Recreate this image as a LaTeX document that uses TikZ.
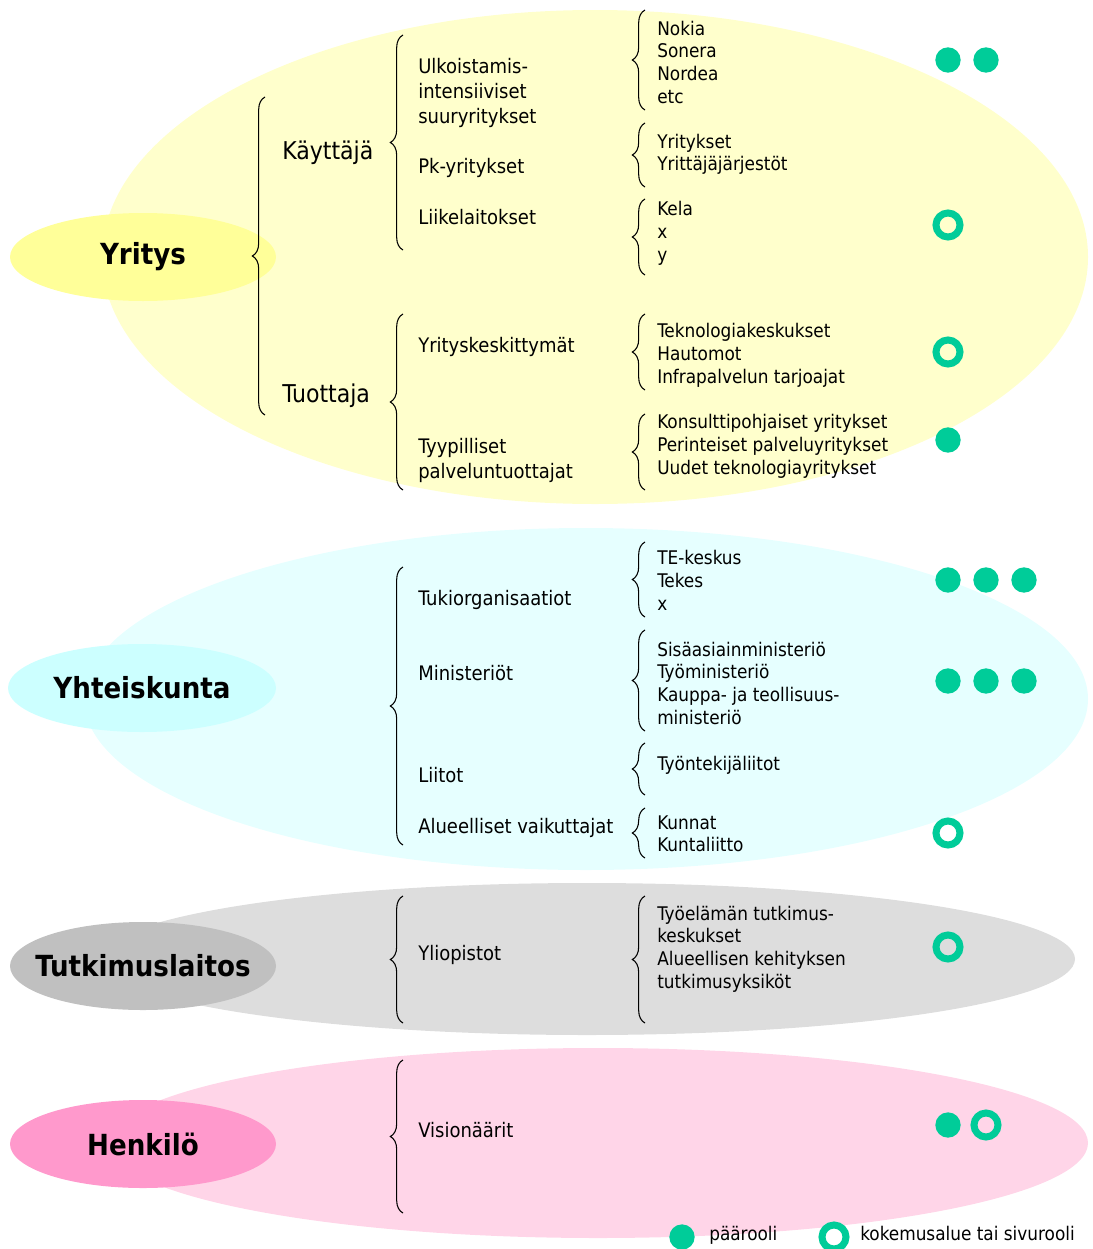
\documentclass[tikz,border=0pt]{standalone}
\usepackage{fontspec}
\setmainfont{DejaVu Sans Condensed}
\usetikzlibrary{decorations.pathreplacing,positioning}
\definecolor{ybg}{RGB}{255,255,204}
\definecolor{ymain}{RGB}{255,255,153}
\definecolor{cbg}{RGB}{230,255,255}
\definecolor{cmain}{RGB}{204,255,255}
\definecolor{gbg}{RGB}{221,221,221}
\definecolor{gmain}{RGB}{192,192,192}
\definecolor{pbg}{RGB}{255,213,232}
\definecolor{pmain}{RGB}{255,153,204}
\definecolor{rolegreen}{RGB}{0,204,153}
\tikzset{
  cat/.style = {font=\fontsize{21.8}{26}\selectfont\bfseries, inner sep=0pt},
  lvone/.style = {font=\fontsize{18.4}{22}\selectfont, anchor=base west, inner sep=0pt},
  lvtwo/.style = {font=\fontsize{15}{18.75}\selectfont, anchor=base west, inner sep=0pt, align=left},
  lvthree/.style = {font=\fontsize{14.1}{17}\selectfont, anchor=base west, inner sep=0pt, align=left},
  brc/.style = {decorate, decoration={brace, amplitude=9.5pt}, line width=0.8pt},
  pdot/.style = {circle, fill=rolegreen, minimum size=19pt, inner sep=0pt},
  sdot/.style = {circle, draw=rolegreen, line width=5.25pt, minimum size=18pt, inner sep=0pt}
}
\begin{document}
\begin{tikzpicture}[x=0.75pt,y=-0.75pt]
\useasboundingbox (0,0) rectangle (1092,1249);
% background ellipses
\fill[ybg] (595,257) ellipse [x radius=493, y radius=247];
\fill[cbg] (586,699) ellipse [x radius=502, y radius=171];
\fill[gbg] (587,959) ellipse [x radius=488, y radius=76];
\fill[pbg] (598,1143) ellipse [x radius=490, y radius=95];
\fill[ymain] (143,257) ellipse [x radius=133, y radius=44];
\fill[cmain] (142,688) ellipse [x radius=134, y radius=44];
\fill[gmain] (143,966) ellipse [x radius=133, y radius=44];
\fill[pmain] (143,1144) ellipse [x radius=133, y radius=44];
\node[cat] (yritys) at (143,257) {Yritys};
\node[cat] (yhteis) at (142,688) {Yhteiskunta};
\node[cat] (tutk) at (143,966) {Tutkimuslaitos};
\node[cat] (henk) at (143,1144) {Henkilö};

% Yritys (multi-line nodes sit on the base of their last line)
\draw[brc] (265,415) -- (265,97);
\node[lvone] (kaytt) at (282,159) {Käyttäjä};
\node[lvone] (tuott) at (282,402) {Tuottaja};
\draw[brc] (403,250) -- (403,35);
\draw[brc] (403,490) -- (403,314);
\node[lvtwo] (ulko) at (418,123.5) {Ulkoistamis-\\intensiiviset\\suuryritykset};
\node[lvtwo] (pk) at (418,173.5) {Pk-yritykset};
\node[lvtwo] (liike) at (418,224.5) {Liikelaitokset};
\node[lvtwo] (keskit) at (418,352.5) {Yrityskeskittymät};
\node[lvtwo] (tyyp) at (418,478.5) {Tyypilliset\\palveluntuottajat};
\draw[brc] (645,110) -- (645,10);
\draw[brc] (645,187) -- (645,123);
\draw[brc] (645,275) -- (645,199);
\draw[brc] (645,390) -- (645,314);
\draw[brc] (645,490) -- (645,414);
\node[lvthree] (nokia) at (657,103) {Nokia\\Sonera\\Nordea\\etc};
\node[lvthree] (yrit) at (657,170.7) {Yritykset\\Yrittäjäjärjestöt};
\node[lvthree] (kela) at (657,261.3) {Kela\\x\\y};
\node[lvthree] (tekno) at (657,383.3) {Teknologiakeskukset\\Hautomot\\Infrapalvelun tarjoajat};
\node[lvthree] (konsu) at (657,474.3) {Konsulttipohjaiset yritykset\\Perinteiset palveluyritykset\\Uudet teknologiayritykset};

% Yhteiskunta
\draw[brc] (403,845) -- (403,567);
\node[lvtwo] (tuki) at (418,605.5) {Tukiorganisaatiot};
\node[lvtwo] (mini) at (418,680.5) {Ministeriöt};
\node[lvtwo] (liitot) at (418,782.5) {Liitot};
\node[lvtwo] (aluee) at (418,833.5) {Alueelliset vaikuttajat};
\draw[brc] (645,617) -- (645,542);
\draw[brc] (645,731) -- (645,630);
\draw[brc] (645,795) -- (645,743);
\draw[brc] (645,858) -- (645,808);
\node[lvthree] (tekes) at (657,610.3) {TE-keskus\\Tekes\\x};
\node[lvthree] (minist) at (657,724) {Sisäasiainministeriö\\Työministeriö\\Kauppa- ja teollisuus-\\ministeriö};
\node[lvthree] (tyontek) at (657,770) {Työntekijäliitot};
\node[lvthree] (kunnat) at (657,851.7) {Kunnat\\Kuntaliitto};

% Tutkimuslaitos, Henkilo
\draw[brc] (403,1023) -- (403,896);
\node[lvtwo] (ylio) at (418,960.5) {Yliopistot};
\draw[brc] (645,1023) -- (645,896);
\node[lvthree] (tyoel) at (657,988) {Työelämän tutkimus-\\keskukset\\Alueellisen kehityksen\\tutkimusyksiköt};
\draw[brc] (403,1213) -- (403,1060);
\node[lvtwo] (visio) at (418,1137.5) {Visionäärit};

% roolit
\node[pdot] (r1a) at (948,60) {};
\node[pdot] (r1b) at (986,60) {};
\node[sdot] (r2) at (948,225) {};
\node[sdot] (r3) at (948,352) {};
\node[pdot] (r4) at (948,440) {};
\node[pdot] (r5a) at (948,580) {};
\node[pdot] (r5b) at (986,580) {};
\node[pdot] (r5c) at (1024,580) {};
\node[pdot] (r6a) at (948,681) {};
\node[pdot] (r6b) at (986,681) {};
\node[pdot] (r6c) at (1024,681) {};
\node[sdot] (r7) at (948,833) {};
\node[sdot] (r8) at (948,947) {};
\node[pdot] (r9a) at (948,1125) {};
\node[sdot] (r9b) at (986,1125) {};

% selite
\node[pdot] (lpaa) at (682,1237) {};
\node[lvthree] (tpaa) at (709,1240) {päärooli};
\node[sdot] (lsiv) at (834,1237) {};
\node[lvthree] (tsiv) at (860,1240) {kokemusalue tai sivurooli};
\end{tikzpicture}
\end{document}
